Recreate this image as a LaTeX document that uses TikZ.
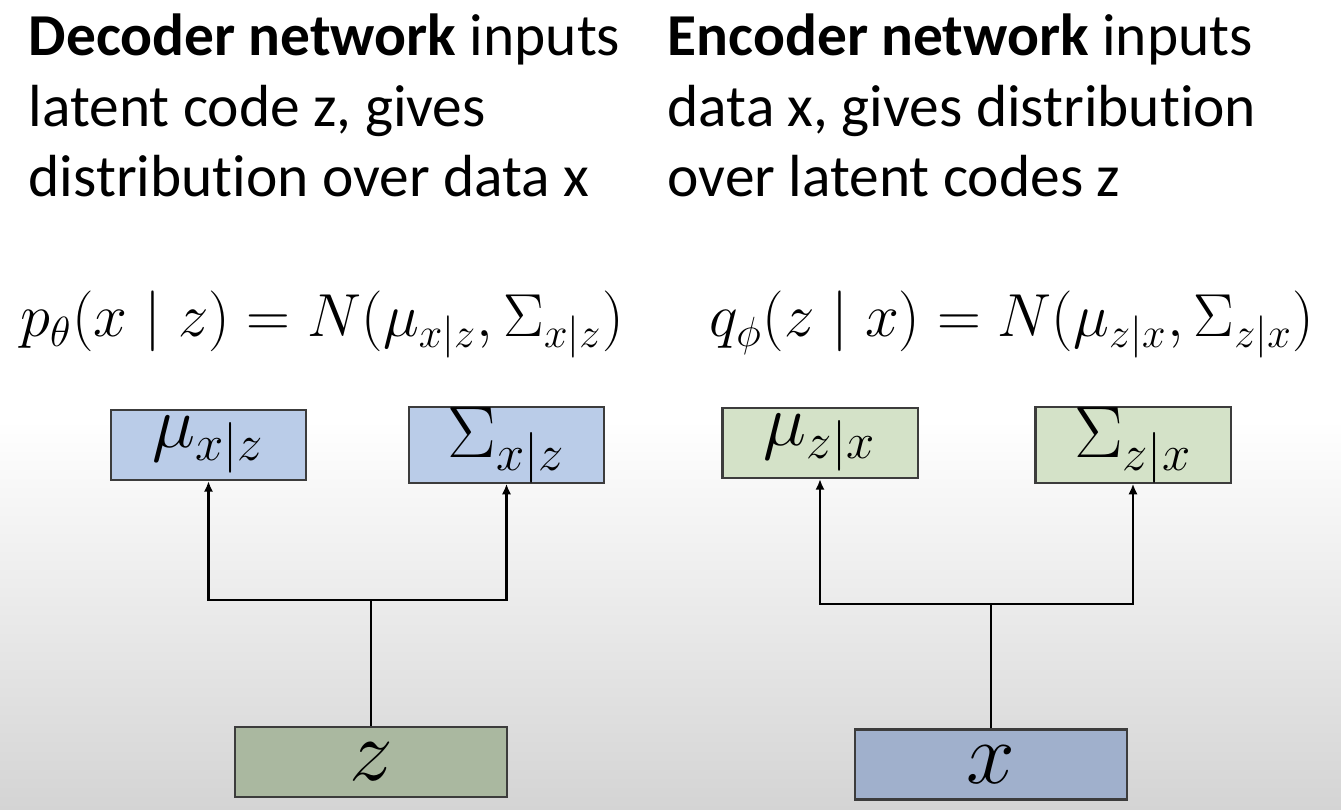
\documentclass[tikz,border=0pt]{standalone}
\usepackage{fontspec}
\setmainfont[Ligatures=NoCommon]{Carlito}
\usetikzlibrary{arrows.meta}
\definecolor{decblue}{RGB}{186,204,232}
\definecolor{encgreen}{RGB}{212,226,200}
\definecolor{zgreen}{RGB}{170,184,160}
\definecolor{xblue}{RGB}{160,176,204}
\definecolor{bggray}{RGB}{212,212,212}
\definecolor{edge}{RGB}{60,60,60}
\begin{document}
\begin{tikzpicture}[x=0.01cm,y=-0.01cm,
  head/.style={anchor=base west,inner sep=0,font=\fontsize{16.9}{20}\selectfont},
  eq/.style={anchor=base,inner sep=0,font=\fontsize{17.2}{20}\selectfont},
  outbox/.style={draw=edge,line width=0.6pt,minimum width=1.95cm,minimum height=0.70cm,inner sep=0,font=\fontsize{19.5}{22}\selectfont},
  inbox/.style={draw=edge,line width=0.6pt,minimum width=2.71cm,minimum height=0.70cm,inner sep=0,font=\fontsize{26}{30}\selectfont},
  conn/.style={line width=0.6pt,black},
  arr/.style={conn,-{Latex[length=3pt,width=2.6pt]}}]
\useasboundingbox (0,0) rectangle (1341,810);
\fill[white] (0,0) rectangle (1341,810);
\shade[top color=white,bottom color=bggray] (0,420) rectangle (1341,810);
% headings
\node[head] (d1) at (28,56) {\textbf{Decoder network} inputs};
\node[head] (d2) at (28,127) {latent code z, gives};
\node[head] (d3) at (28,197) {distribution over data x};
\node[head] (e1) at (667,56) {\textbf{Encoder network} inputs};
\node[head] (e2) at (667,127) {data x, gives distribution};
\node[head] (e3) at (667,197) {over latent codes z};
% equations
\node[eq] (eqd) at (322,337) {$p_\theta(x\mid z)=N(\mu_{x|z},\Sigma_{x|z})$};
\node[eq] (eqe) at (1012,337) {$q_\phi(z\mid x)=N(\mu_{z|x},\Sigma_{z|x})$};
% decoder
\node[outbox,fill=decblue] (dmu) at (208.5,445) {$\mu_{x|z}$};
\node[outbox,fill=decblue] (dsig) at (506.5,445) {$\Sigma_{x|z}$};
\node[inbox,fill=zgreen] (zin) at (371,762) {$z$};
\coordinate (dj) at (371,600);
\draw[conn] (zin.north) -- (dj);
\draw[arr] (dj) -| (dmu.south);
\draw[arr] (dj) -| (dsig.south);
% encoder
\node[outbox,fill=encgreen] (emu) at (820,443) {$\mu_{z|x}$};
\node[outbox,fill=encgreen] (esig) at (1133,445) {$\Sigma_{z|x}$};
\node[inbox,fill=xblue] (xin) at (991,764.5) {$x$};
\coordinate (ej) at (991,604);
\draw[conn] (xin.north) -- (ej);
\draw[arr] (ej) -| (emu.south);
\draw[arr] (ej) -| (esig.south);
\end{tikzpicture}
\end{document}
